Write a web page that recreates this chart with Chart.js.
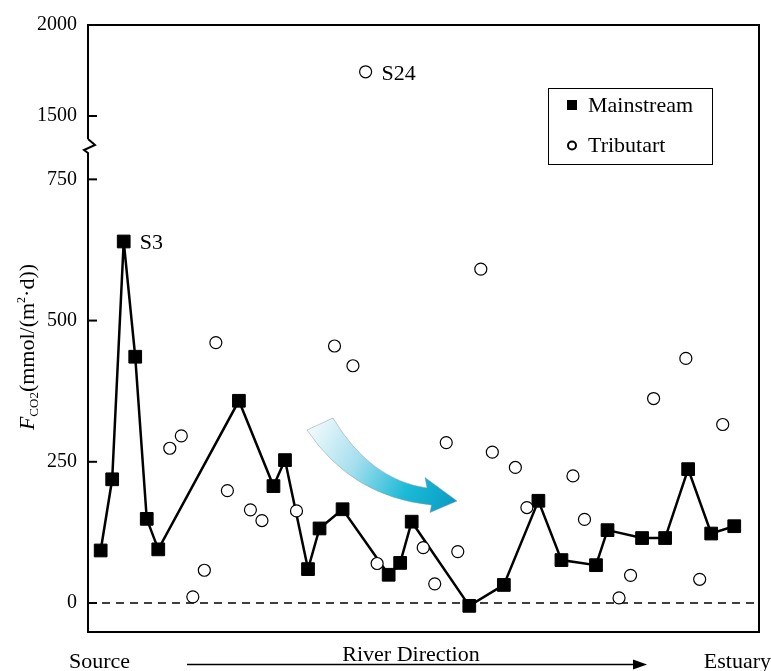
<!DOCTYPE html>
<html>
<head>
<meta charset="utf-8">
<script src="https://cdn.jsdelivr.net/npm/chart.js@4.4.1/dist/chart.umd.min.js"></script>
<style>
  html, body { margin: 0; padding: 0; background: #fff; }
  #wrap { width: 771px; height: 671px; }
</style>
</head>
<body>
<div id="wrap"><canvas id="fluxChart" width="771" height="671"></canvas></div>
<script>
// sampling sites along the river (1 = source ... 56 = estuary)
const mainSites = [1, 2, 3, 4, 5, 6, 13, 16, 17, 19, 20, 22, 26, 27, 28, 33, 36, 39, 41, 44, 45, 48, 50, 52, 54, 56];
const mainFlux = [93, 219, 640, 436, 149, 95, 358, 207, 253, 60, 132, 166, 50, 71, 144, -5, 32, 181, 76, 67, 129, 115, 115, 237, 123, 136];

const tribSites = [7, 8, 9, 10, 11, 12, 14, 15, 18, 21.3, 22.9, 24, 25, 29, 30, 31, 32, 34, 35, 37, 38, 42, 43, 46, 47, 49, 51.8, 53, 55];
const tribFlux = [274, 296, 11, 58, 461, 199, 165, 146, 163, 455, 420, 1743, 70, 98, 34, 284, 91, 591, 267, 240, 169, 225, 148, 9, 49, 362, 433, 42, 316];

const lowTicks = [0, 250, 500, 750];
const highTicks = [1500, 2000];
const breakValue = 1000;   // values above this go on the upper (compressed) part of the axis
const labelSites = [3, 24];

const FONT = "'Liberation Serif', 'Times New Roman', serif";

const tribLow = [];
const tribHigh = [];
tribSites.forEach((s, i) => {
    (tribFlux[i] > breakValue ? tribHigh : tribLow).push({ x: s, y: tribFlux[i] });
});
const mainPoints = mainSites.map((s, i) => ({ x: s, y: mainFlux[i] }));

const circleStyle = {
    showLine: false,
    pointStyle: 'circle',
    pointRadius: 6,
    pointBackgroundColor: '#fff',
    pointBorderColor: '#000',
    pointBorderWidth: 1.2,
    order: 1
};

const decorPlugin = {
    id: 'decor',
    beforeDatasetsDraw(chart) {
        const { ctx, chartArea: a, scales } = chart;
        const yLow = scales.y;
        const yHigh = scales.yHigh;
        const brk = yHigh.bottom;
        ctx.save();

        // dashed zero line
        const y0 = yLow.getPixelForValue(0);
        ctx.strokeStyle = '#000';
        ctx.setLineDash([8, 6]);
        ctx.lineWidth = 1.5;
        ctx.beginPath();
        ctx.moveTo(a.left, y0);
        ctx.lineTo(a.right, y0);
        ctx.stroke();
        ctx.setLineDash([]);

        // frame with the axis break
        ctx.lineWidth = 2;
        ctx.beginPath();
        ctx.moveTo(a.left, brk - 6);
        ctx.lineTo(a.left, a.top);
        ctx.lineTo(a.right, a.top);
        ctx.lineTo(a.right, a.bottom);
        ctx.lineTo(a.left, a.bottom);
        ctx.lineTo(a.left, brk + 8);
        ctx.lineTo(a.left - 4, brk + 5);
        ctx.lineTo(a.left + 7, brk);
        ctx.lineTo(a.left, brk - 6);
        ctx.stroke();

        // inward tick marks
        [yLow, yHigh].forEach(s => {
            s.ticks.forEach(t => {
                const p = s.getPixelForValue(t.value);
                ctx.beginPath();
                ctx.moveTo(a.left, p);
                ctx.lineTo(a.left + 9, p);
                ctx.stroke();
            });
        });

        // blue curved arrow (decoration)
        const ox = a.left, oy = a.top;
        const g = ctx.createLinearGradient(ox + 222, oy + 400, ox + 368, oy + 478);
        g.addColorStop(0, '#f3fafc');
        g.addColorStop(0.35, '#a6dfee');
        g.addColorStop(0.7, '#1bbad7');
        g.addColorStop(1, '#0a9cc3');
        ctx.fillStyle = g;
        ctx.beginPath();
        ctx.moveTo(ox + 245, oy + 393);
        ctx.quadraticCurveTo(ox + 282, oy + 455, ox + 339, oy + 463);
        ctx.lineTo(ox + 337, oy + 452.5);
        ctx.lineTo(ox + 369, oy + 476);
        ctx.lineTo(ox + 342, oy + 487.5);
        ctx.lineTo(ox + 343.5, oy + 480);
        ctx.quadraticCurveTo(ox + 264, oy + 472, ox + 219, oy + 405);
        ctx.closePath();
        ctx.fill();
        ctx.strokeStyle = 'rgba(130,150,160,0.6)';
        ctx.lineWidth = 0.8;
        ctx.stroke();

        ctx.restore();
    },
    afterDraw(chart) {
        const { ctx } = chart;
        ctx.save();
        ctx.fillStyle = '#000';
        ctx.strokeStyle = '#000';

        // site labels next to their points
        ctx.font = '22px ' + FONT;
        ctx.textBaseline = 'middle';
        ctx.textAlign = 'left';
        chart.data.datasets.forEach((ds, di) => {
            const meta = chart.getDatasetMeta(di);
            ds.data.forEach((d, j) => {
                if (labelSites.includes(d.x)) {
                    const el = meta.data[j];
                    ctx.fillText('S' + d.x, el.x + 16, el.y + 2);
                }
            });
        });

        // legend
        ctx.lineWidth = 1;
        ctx.strokeRect(548.5, 88.5, 164, 76);
        ctx.fillRect(567, 100, 10, 10);
        ctx.lineWidth = 2;
        ctx.beginPath();
        ctx.arc(572, 145.5, 4, 0, Math.PI * 2);
        ctx.stroke();
        ctx.textBaseline = 'alphabetic';
        ctx.font = '22px ' + FONT;
        ctx.fillText('Mainstream', 588, 112);
        ctx.fillText('Tributart', 588, 152);

        // river direction along the bottom
        ctx.fillText('Source', 69, 668);
        ctx.textAlign = 'center';
        ctx.fillText('River Direction', 411, 661);
        ctx.textAlign = 'right';
        ctx.fillText('Estuary', 771, 668);
        ctx.lineWidth = 1.5;
        ctx.beginPath();
        ctx.moveTo(187, 664.5);
        ctx.lineTo(636, 664.5);
        ctx.stroke();
        ctx.beginPath();
        ctx.moveTo(647, 664.5);
        ctx.lineTo(633, 659.5);
        ctx.lineTo(633, 669.5);
        ctx.closePath();
        ctx.fill();

        // y axis title: F_CO2 (mmol/(m2·d))
        ctx.translate(34, 347);
        ctx.rotate(-Math.PI / 2);
        ctx.textAlign = 'left';
        const parts = [
            { t: 'F', f: 'italic 22px ' + FONT, dy: 0 },
            { t: 'CO2', f: '13px ' + FONT, dy: 4 },
            { t: '(mmol/(m', f: '22px ' + FONT, dy: 0 },
            { t: '2', f: '12px ' + FONT, dy: -9 },
            { t: '\u00b7d))', f: '22px ' + FONT, dy: 0 }
        ];
        let total = 0;
        parts.forEach(p => { ctx.font = p.f; p.w = ctx.measureText(p.t).width; total += p.w; });
        let cx = -total / 2;
        parts.forEach(p => {
            ctx.font = p.f;
            ctx.fillText(p.t, cx, p.dy);
            cx += p.w;
        });
        ctx.restore();
    }
};

const tickFont = { family: FONT, size: 20 };
const plainTick = v => String(v);

new Chart(document.getElementById('fluxChart'), {
    type: 'scatter',
    data: {
        datasets: [
            {
                label: 'Mainstream',
                data: mainPoints,
                showLine: true,
                borderColor: '#000',
                borderWidth: 2.5,
                tension: 0,
                pointStyle: 'rect',
                pointRadius: 9,
                pointBackgroundColor: '#000',
                pointBorderColor: '#000',
                pointBorderWidth: 1,
                yAxisID: 'y',
                order: 2
            },
            Object.assign({ label: 'Tributart', data: tribLow, yAxisID: 'y' }, circleStyle),
            Object.assign({ label: 'Tributart (high)', data: tribHigh, yAxisID: 'yHigh' }, circleStyle)
        ]
    },
    options: {
        responsive: false,
        animation: false,
        layout: { padding: { top: 25, bottom: 39, right: 12, left: 0 } },
        plugins: {
            legend: { display: false },
            tooltip: { enabled: false }
        },
        scales: {
            x: {
                type: 'linear',
                display: false,
                min: -0.1,
                max: 58.15
            },
            y: {
                type: 'linear',
                position: 'left',
                stack: 'flux',
                stackWeight: 487,
                min: -51.3,
                max: 810.8,
                afterBuildTicks: s => { s.ticks = lowTicks.map(v => ({ value: v })); },
                afterFit: s => { s.width = 88; },
                grid: { display: false, drawTicks: false },
                border: { display: false },
                ticks: { color: '#000', font: tickFont, padding: 11, callback: plainTick }
            },
            yHigh: {
                type: 'linear',
                position: 'left',
                stack: 'flux',
                stackWeight: 120,
                min: 1340.7,
                max: 2000,
                afterBuildTicks: s => { s.ticks = highTicks.map(v => ({ value: v })); },
                afterFit: s => { s.width = 88; },
                grid: { display: false, drawTicks: false },
                border: { display: false },
                ticks: { color: '#000', font: tickFont, padding: 11, callback: plainTick }
            }
        }
    },
    plugins: [decorPlugin]
});
</script>
</body>
</html>
